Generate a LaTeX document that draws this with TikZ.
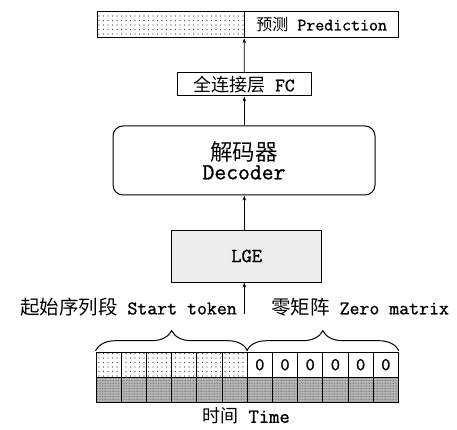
\documentclass[tikz,border=0pt]{standalone}
\usepackage{fontspec}
\setmainfont{Latin Modern Mono}[FakeBold=1.1]
\newfontfamily\cjk{Noto Sans CJK SC}
\usetikzlibrary{patterns.meta,decorations.pathreplacing,arrows.meta}
\begin{document}
\begin{tikzpicture}[x=1pt,y=-1pt,
  box/.style={draw, line width=1pt, inner sep=0pt},
  arr/.style={-{Stealth[length=5pt,width=3.5pt]}, line width=0.8pt},
  dotfill/.style={pattern={Dots[distance=4.5pt,radius=0.6pt]}, pattern color=black!75},
  densefill/.style={preaction={fill=black!25}, pattern={Dots[distance=1.6pt,radius=0.5pt]}, pattern color=black!55},
  cell/.style={draw, line width=1pt, minimum width=25.2pt, minimum height=25pt, inner sep=0pt, anchor=north west, font=\fontsize{18}{20}\selectfont},
  brc/.style={decorate, decoration={brace, amplitude=20pt}, line width=1pt}]
\useasboundingbox (0,0) rectangle (457,430);

% top bar
\node[box, dotfill, minimum width=147.5pt, minimum height=26.5pt, anchor=north west] (dot) at (96.7,10.7) {};
\node[box, minimum width=154pt, minimum height=26.5pt, anchor=north west, font=\fontsize{17.4}{19}\selectfont] (pred) at (244.2,10.7) {{\cjk\fontsize{16}{18}\selectfont 预测} Prediction};

% FC
\node[box, minimum width=134pt, minimum height=23pt, font=\fontsize{19}{21}\selectfont] (fc) at (244,84.5) {{\cjk\fontsize{18}{20}\selectfont 全连接层} FC};

% Decoder
\node[box, rounded corners=10pt, minimum width=262pt, minimum height=69pt, align=center] (dec) at (244,160.5)
  {{\cjk\fontsize{22.5}{24}\selectfont 解码器}\\[2pt]{\fontsize{23}{24}\selectfont Decoder}};

% LGE
\node[box, fill=black!7, minimum width=150pt, minimum height=52pt, font=\fontsize{20}{22}\selectfont] (lge) at (246.7,256) {LGE};

% labels
\node[anchor=east, inner sep=0pt, font=\fontsize{19.3}{21}\selectfont] (lstart) at (237,307) {{\cjk\fontsize{19.5}{21}\selectfont 起始序列段} Start token};
\node[anchor=west, inner sep=0pt, font=\fontsize{19.3}{21}\selectfont] (lzero) at (271,307) {{\cjk\fontsize{19.5}{21}\selectfont 零矩阵} Zero matrix};
\coordinate (inp) at (244.3,314);

% arrows
\draw[arr] (inp) -- (inp |- lge.south);
\draw[arr] (lge.north -| inp) -- (dec.south -| inp);
\draw[arr] (dec.north -| inp) -- (fc.south -| inp);
\draw[arr] (fc.north -| inp) -- (pred.south west);

% grid
\foreach \i in {0,...,5} {
  \node[cell, dotfill] (s\i) at (95.5+\i*25.2,351.7) {};
  \node[cell, densefill] (b\i) at (95.5+\i*25.2,376.7) {};
}
\foreach \i in {6,...,11} {
  \node[cell] (s\i) at (95.5+\i*25.2,351.7) {0};
  \node[cell, densefill] (b\i) at (95.5+\i*25.2,376.7) {};
}

% braces
\draw[brc] (s0.north west) ++(0,-1) coordinate (bl) -- (s5.north east |- bl);
\draw[brc] (s6.north west) ++(0,-1) coordinate (br) -- (s11.north east |- br);

% time
\node[font=\fontsize{20}{22}\selectfont, inner sep=0pt] (time) at (246,416) {{\cjk\fontsize{18}{20}\selectfont 时间} Time};
\end{tikzpicture}
\end{document}
